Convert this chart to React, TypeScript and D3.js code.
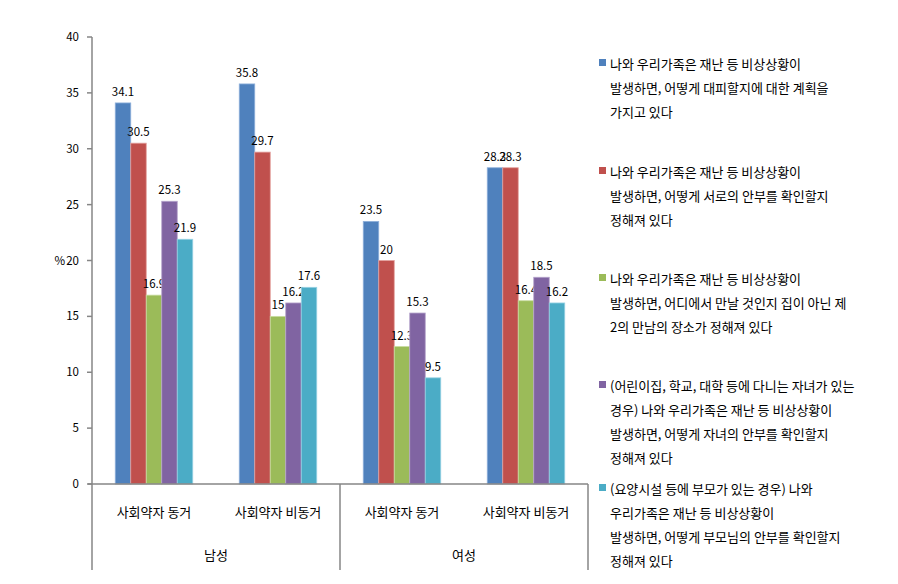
import React from "react";
import * as d3 from "d3";

const genders = ["남성", "여성"];
const groups = ["사회약자 동거", "사회약자 비동거", "사회약자 동거", "사회약자 비동거"];
const seriesNames = ["s1", "s2", "s3", "s4", "s5"];
const values = [
  [34.1, 30.5, 16.9, 25.3, 21.9],
  [35.8, 29.7, 15, 16.2, 17.6],
  [23.5, 20, 12.3, 15.3, 9.5],
  [28.3, 28.3, 16.4, 18.5, 16.2],
];
const yTicks = [0, 5, 10, 15, 20, 25, 30, 35, 40];
const colors = ["#4F81BD", "#C0504D", "#9BBB59", "#8064A2", "#4BACC6"];
const strokes = ["#8FB0DA", "#E3A19F", "#C9DCA0", "#B4A3CB", "#97D2E3"];
const legendLines = [
  ["나와 우리가족은 재난 등 비상상황이", "발생하면, 어떻게 대피할지에 대한 계획을", "가지고 있다"],
  ["나와 우리가족은 재난 등 비상상황이", "발생하면, 어떻게 서로의 안부를 확인할지", "정해져 있다"],
  ["나와 우리가족은 재난 등 비상상황이", "발생하면, 어디에서 만날 것인지 집이 아닌 제", "2의 만남의 장소가 정해져 있다"],
  ["(어린이집, 학교, 대학 등에 다니는 자녀가 있는", "경우) 나와 우리가족은 재난 등 비상상황이", "발생하면, 어떻게 자녀의 안부를 확인할지", "정해져 있다"],
  ["(요양시설 등에 부모가 있는 경우) 나와", "우리가족은 재난 등 비상상황이", "발생하면, 어떻게 부모님의 안부를 확인할지", "정해져 있다"],
];
const legendTops = [69, 177, 284, 391, 494];

const W = 898, H = 584;
const left = 92, right = 588, top = 37, base = 484;
const font = "'Noto Sans CJK KR', 'Noto Sans', sans-serif";

export default function App() {
  const y = d3.scaleLinear().domain([0, 40]).range([base, top]);
  const x0 = d3.scaleBand<number>().domain(d3.range(groups.length)).range([left, right]).paddingInner(0).paddingOuter(0);
  const x1 = d3.scaleBand<number>().domain(d3.range(seriesNames.length)).range([0, x0.bandwidth()]).paddingOuter(1.5);
  const axisColor = "#868686";
  return (
    <svg width={W} height={H} style={{ position: "absolute", left: 0, top: 0, background: "#fff" }} fontFamily={font}>
      {values.map((row, gi) =>
        row.map((v, si) => {
          const bx = x0(gi)! + x1(si)!;
          const bw = x1.bandwidth();
          return (
            <g key={`${gi}-${si}`}>
              <rect x={bx} y={y(v)} width={bw} height={base - y(v)} fill={colors[si]} stroke={strokes[si]} strokeWidth={0.8} />
              <text x={bx + bw / 2} y={y(v) - 7} textAnchor="middle" fontSize={11.5} fill="#000">{v}</text>
            </g>
          );
        })
      )}
      <line x1={left} x2={left} y1={top} y2={570} stroke={axisColor} strokeWidth={1.5} />
      {yTicks.map((t) => (
        <g key={t}>
          <line x1={left - 5} x2={left} y1={y(t)} y2={y(t)} stroke={axisColor} strokeWidth={1.5} />
          <text x={left - 13} y={y(t) + 4} textAnchor="end" fontSize={11.5} fill="#000">{t}</text>
        </g>
      ))}
      <text x={65} y={y(20) + 4} textAnchor="end" fontSize={11.5} fill="#000">%</text>
      <line x1={left - 4} x2={right} y1={base} y2={base} stroke={axisColor} strokeWidth={1.5} />
      {[1, 2].map((k) => {
        const xx = left + ((right - left) / 2) * k;
        return <line key={k} x1={xx} x2={xx} y1={base} y2={570} stroke={axisColor} strokeWidth={1.5} />;
      })}
      {groups.map((g, gi) => (
        <text key={gi} x={x0(gi)! + x0.bandwidth() / 2} y={517} textAnchor="middle" fontSize={13} fill="#000">{g}</text>
      ))}
      {genders.map((g, i) => (
        <text key={g} x={left + ((right - left) / 4) * (2 * i + 1)} y={560} textAnchor="middle" fontSize={13} fill="#000">{g}</text>
      ))}
      {legendLines.map((lines, i) => (
        <g key={i}>
          <rect x={599} y={legendTops[i] - 10} width={7} height={7} fill={colors[i]} />
          {lines.map((ln, j) => (
            <text key={j} x={610} y={legendTops[i] + j * 24} fontSize={13} fill="#000">{ln}</text>
          ))}
        </g>
      ))}
    </svg>
  );
}
